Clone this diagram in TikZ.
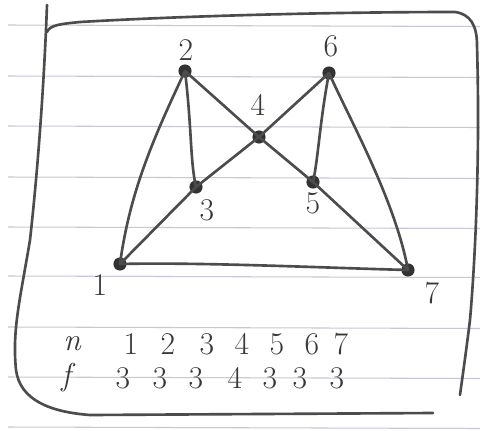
\documentclass[tikz,border=0pt]{standalone}
\begin{document}
\begin{tikzpicture}[x=0.02cm,y=-0.02cm,
  ink/.style={draw=black!70, line width=1.5pt, line cap=round, line join=round},
  vtx/.style={circle, fill=black!80, inner sep=0pt, minimum size=7.5pt},
  lbl/.style={font=\fontsize{18}{20}\selectfont, text=black!78, inner sep=0pt},
  rule/.style={draw=blue!25!black!22, line width=0.6pt}]
\useasboundingbox (0,0) rectangle (480,430);
\fill[white] (0,0) rectangle (480,430);
% ruled paper
\foreach \yy in {25,76,126,177,227,276,327,377,427}
  \draw[rule] (8,\yy) -- (480,\yy+1.5);
% frame
\draw[ink] (47,5) .. controls (45,60) and (40,150) .. (30,240)
  .. controls (20,300) and (12,330) .. (16,370)
  .. controls (20,400) and (50,412) .. (90,415) -- (433,413);
\draw[ink] (47,32) .. controls (50,25) and (60,24) .. (80,22)
  .. controls (200,15) and (350,12) .. (455,12)
  .. controls (470,14) and (477,25) .. (477,45)
  .. controls (480,150) and (476,250) .. (470,320)
  .. controls (465,360) and (462,380) .. (460,395);
% vertices
\node[vtx] (v1) at (120,264) {};
\node[vtx] (v2) at (185,71) {};
\node[vtx] (v3) at (196,187) {};
\node[vtx] (v4) at (259,137) {};
\node[vtx] (v5) at (313,182) {};
\node[vtx] (v6) at (329,73) {};
\node[vtx] (v7) at (408,270) {};
% edges
\draw[ink] (v2.center) .. controls (155,135) and (130,190) .. (v1.center);
\draw[ink] (v2.center) .. controls (192,130) and (190,160) .. (v3.center);
\draw[ink] (v2.center) -- (v4.center) -- (v5.center) -- (v7.center);
\draw[ink] (v6.center) -- (v4.center) -- (v3.center) -- (v1.center);
\draw[ink] (v6.center) .. controls (320,120) and (318,160) .. (v5.center);
\draw[ink] (v6.center) .. controls (350,120) and (395,200) .. (v7.center);
\draw[ink] (v1.center) .. controls (200,262) and (330,268) .. (v7.center);
% vertex labels
\node[lbl] (l2) at (186,50) {2};
\node[lbl] (l6) at (331,46) {6};
\node[lbl] (l4) at (258,105) {4};
\node[lbl] (l3) at (207,210) {3};
\node[lbl] (l5) at (313,203) {5};
\node[lbl] (l1) at (100,285) {1};
\node[lbl] (l7) at (432,293) {7};
% table
\node[lbl] (tn) at (72,344) {\itshape n};
\node[lbl] (tf) at (66,378) {\itshape f};
\foreach \xx/\t in {131/1,168/2,207/3,242/4,277/5,312/6,341/7}
  \node[lbl] at (\xx,344) {\t};
\foreach \xx/\t in {123/3,160/3,196/3,235/4,270/3,300/3,337/3}
  \node[lbl] at (\xx,378) {\t};
\end{tikzpicture}
\end{document}
